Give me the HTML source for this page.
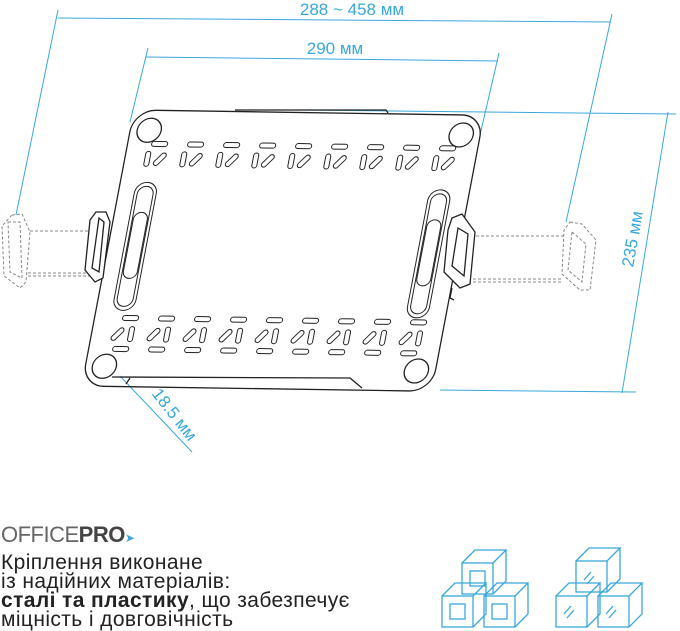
<!DOCTYPE html>
<html><head><meta charset="utf-8"><style>
body{margin:0;background:#fff;width:680px;height:630px;overflow:hidden;position:relative;font-family:"Liberation Sans",sans-serif}
.t{position:absolute;left:1px;font-size:21px;letter-spacing:0.4px;color:#222;line-height:20px}
</style></head><body>
<svg width="680" height="630" style="position:absolute;left:0;top:0" xmlns="http://www.w3.org/2000/svg">
<defs>
 <g id="cb" stroke="#3aa8dc" stroke-width="1.3" fill="none">
  <rect x="0" y="0" width="31" height="31"/>
  <path d="M0 0 L13 -13 L44 -13 L31 0 M44 -13 L44 18 L31 31"/>
 </g>
</defs>
<g stroke="#3aa8dc" stroke-width="1" fill="none">
 <line x1="58" y1="18" x2="610" y2="22"/>
 <line x1="58" y1="10" x2="16" y2="215"/>
 <line x1="612" y1="14" x2="566" y2="222"/>
 <line x1="146" y1="57" x2="498" y2="61"/>
 <line x1="148" y1="48" x2="130" y2="122"/>
 <line x1="499" y1="53" x2="480" y2="135"/>
 <line x1="300" y1="110" x2="676" y2="114"/>
 <line x1="440" y1="390" x2="636" y2="392"/>
 <line x1="668" y1="112" x2="622" y2="393"/>
 <line x1="120" y1="376" x2="192" y2="452"/>
</g>
<g fill="#3aa8dc" font-family="Liberation Sans,sans-serif" font-size="17">
 <text x="352" y="15" text-anchor="middle">288 ~ 458 мм</text>
 <text x="335" y="54" text-anchor="middle">290 мм</text>
 <text transform="translate(638,240) rotate(-80)" text-anchor="middle">235 мм</text>
 <text transform="translate(170,418) rotate(52)" text-anchor="middle">18.5 мм</text>
</g>
<g stroke="#888" stroke-width="1" fill="none" stroke-dasharray="3,2">
 <line x1="30" y1="231" x2="90" y2="231"/>
 <line x1="28" y1="273" x2="92" y2="273"/>
 <line x1="28" y1="276" x2="92" y2="276"/>
 <path d="M12 215 L22 214 L30 232 L26 282 L20 288 L4 276 L2 226 Z"/>
 <path d="M8 222 L20 222 L22 278 L10 272 Z"/>
 <line x1="476" y1="236" x2="566" y2="236"/>
 <line x1="468" y1="279" x2="562" y2="279"/>
 <line x1="468" y1="282" x2="562" y2="282"/>
 <path d="M570 222 L582 224 L596 240 L590 290 L580 290 L562 274 L564 230 Z"/>
 <path d="M572 232 L586 244 L582 282 L568 270 Z"/>
</g>
<g stroke="#222" fill="none" stroke-width="1.3">
 <path d="M235 110 L386 110 L388 113"/>
 <path d="M112 377 L350 378 L362 388"/>
 <path d="M130 378 L126 384"/>
 <g transform="matrix(1,0.015,-0.19,1,134,110)">
  <rect x="0" y="0" width="350" height="276" rx="22"/>
  <circle cx="19" cy="20" r="12"/><circle cx="331" cy="20" r="12"/>
  <circle cx="19" cy="256" r="12"/><circle cx="331" cy="256" r="12"/>
  <g stroke-width="1">
  <g id="tr">
   <rect x="24" y="31" width="16" height="5" rx="2.5"/>
   <rect x="20" y="41" width="5" height="15" rx="2.5"/>
   <rect x="33" y="41" width="5" height="15" rx="2.5" transform="rotate(40 35 48)"/>
  </g>
  <use href="#tr" x="36"/><use href="#tr" x="72"/><use href="#tr" x="108"/><use href="#tr" x="144"/>
  <use href="#tr" x="180"/><use href="#tr" x="216"/><use href="#tr" x="252"/><use href="#tr" x="288"/>
  <g id="br">
   <rect x="28" y="205" width="16" height="5" rx="2.5"/>
   <rect x="24" y="216" width="5" height="15" rx="2.5" transform="rotate(40 26 223)"/>
   <rect x="37" y="216" width="5" height="15" rx="2.5"/>
   <rect x="24" y="236" width="16" height="5" rx="2.5"/>
  </g>
  <use href="#br" x="36"/><use href="#br" x="72"/><use href="#br" x="108"/><use href="#br" x="144"/>
  <use href="#br" x="180"/><use href="#br" x="216"/><use href="#br" x="252"/><use href="#br" x="288"/>
  <rect x="16" y="72" width="22" height="128" rx="11"/>
  <rect x="19" y="76" width="16" height="120" rx="8"/>
  <rect x="20" y="102" width="14" height="66" rx="7"/>
  <rect x="310" y="75" width="22" height="128" rx="11"/>
  <rect x="313" y="79" width="16" height="120" rx="8"/>
  <rect x="314" y="105" width="14" height="66" rx="7"/>
  </g>
 </g>
 <path d="M96 212 L106 212 L110 222 L103 278 L95 282 L85 270 L90 220 Z" fill="#fff"/>
 <path d="M99 218 L104 222 L99 272 L92 268 Z"/>
 <path d="M452 218 L462 214 L475 232 L470 284 L460 288 L444 272 L448 230 Z" fill="#fff"/>
 <path d="M458 228 L468 234 L464 276 L452 266 Z"/>
 <path d="M452 288 L450 298 L454 300"/>
</g>
<g stroke="#3aa8dc" stroke-width="1.3" fill="none">
 <use href="#cb" x="462" y="563"/><use href="#cb" x="442" y="596"/><use href="#cb" x="484" y="596"/>
 <rect x="470" y="571" width="15" height="15"/><rect x="450" y="604" width="15" height="15"/><rect x="492" y="604" width="15" height="15"/>
 <use href="#cb" x="576" y="561"/><use href="#cb" x="556" y="596"/><use href="#cb" x="598" y="596"/>
 <path d="M584 580 L591 572 M587 584 L594 576 M564 614 L571 606 M567 618 L574 610 M606 614 L613 606 M609 618 L616 610"/>
</g>
</svg>
<div style="position:absolute;left:1px;top:522px;font-size:22px;letter-spacing:-0.5px;color:#666"><span style="font-weight:300">OFFICE</span><b style="color:#444">PRO</b><span style="color:#3aa8dc;font-size:12px">➤</span></div>
<div class="t" style="top:553px">Кріплення виконане</div>
<div class="t" style="top:572px">із надійних матеріалів:</div>
<div class="t" style="top:591px"><b>сталі та пластику</b>, що забезпечує</div>
<div class="t" style="top:610px">міцність і довговічність</div>
</body></html>
